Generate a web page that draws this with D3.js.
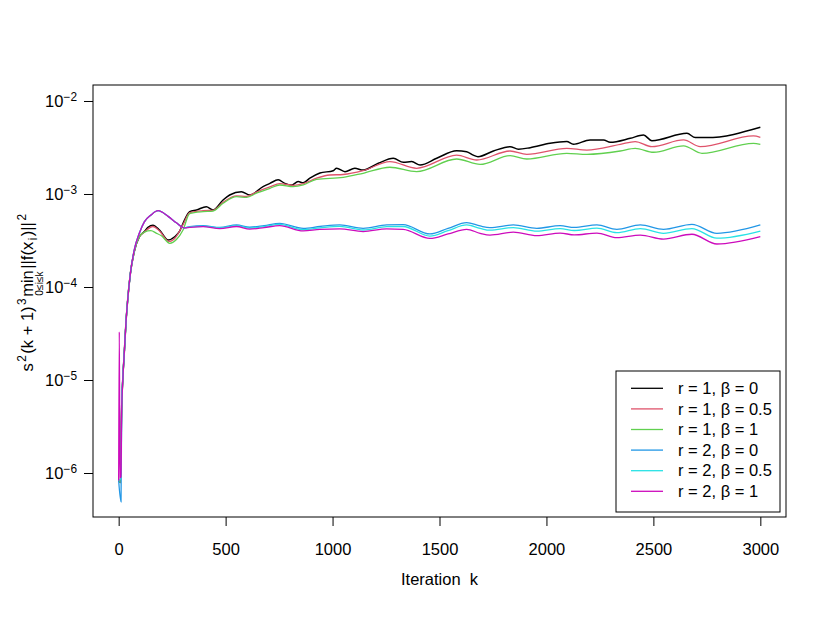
<!DOCTYPE html>
<html>
<head>
<meta charset="utf-8">
<script src="https://cdn.jsdelivr.net/npm/d3@7"></script>
<style>
  body { margin: 0; background: #fff; }
  svg text { font-family: "Liberation Sans", Arial, Helvetica, sans-serif; fill: #000; }
</style>
</head>
<body>
<svg id="chart" width="830" height="623"></svg>
<script>
// data
var xTicks = [0, 500, 1000, 1500, 2000, 2500, 3000];
var yTickExps = [-2, -3, -4, -5, -6];
var seriesNames = ["r = 1, \u03b2 = 0", "r = 1, \u03b2 = 0.5", "r = 1, \u03b2 = 1",
                   "r = 2, \u03b2 = 0", "r = 2, \u03b2 = 0.5", "r = 2, \u03b2 = 1"];

var kR1B0 = [0, 8, 14, 19, 27, 34, 42, 55, 73, 97, 120, 137, 160, 192, 231, 262, 285, 301, 332, 364,
             410, 441, 488, 519, 574, 613, 675, 707, 746, 777, 808, 839, 863, 894, 941, 1003, 1019, 1058, 1104, 1143,
             1214, 1284, 1331, 1370, 1409, 1487, 1580, 1627, 1658, 1680, 1752, 1830, 1869, 1924, 2017, 2095, 2126, 2204, 2267, 2298,
             2392, 2454, 2493, 2657, 2696, 2750, 3000];
var vR1B0 = [8.3e-7, 7.9e-7, 5.1e-6, 1.0e-5, 2.1e-5, 4.1e-5, 7.2e-5, 1.41e-4, 2.4e-4, 3.47e-4,
             3.94e-4, 4.37e-4, 4.62e-4, 4.07e-4, 3.20e-4, 3.47e-4, 3.98e-4, 4.84e-4, 6.46e-4, 6.73e-4,
             7.29e-4, 6.73e-4, 8.61e-4, 9.75e-4, 1.06e-3, 9.75e-4, 1.20e-3, 1.30e-3, 1.42e-3, 1.30e-3,
             1.25e-3, 1.36e-3, 1.32e-3, 1.48e-3, 1.68e-3, 1.78e-3, 1.89e-3, 1.74e-3, 1.89e-3, 1.81e-3,
             2.14e-3, 2.42e-3, 2.19e-3, 2.23e-3, 2.05e-3, 2.42e-3, 2.92e-3, 2.85e-3, 2.62e-3, 2.52e-3,
             2.90e-3, 3.23e-3, 3.03e-3, 3.15e-3, 3.51e-3, 3.66e-3, 3.42e-3, 3.81e-3, 3.81e-3, 3.60e-3,
             3.97e-3, 4.31e-3, 3.74e-3, 4.49e-3, 4.04e-3, 4.04e-3, 5.21e-3];

var kR1B05 = [0, 8, 14, 19, 27, 34, 42, 55, 73, 97, 120, 160, 192, 235, 265, 301, 332, 395, 441, 488,
              551, 598, 644, 707, 753, 816, 863, 925, 987, 1050, 1143, 1268, 1393, 1580, 1674, 1830, 1908, 2095, 2189, 2345,
              2415, 2493, 2641, 2719, 2968, 3000];
var vR1B05 = [8.3e-7, 7.9e-7, 5.1e-6, 1.0e-5, 2.1e-5, 4.1e-5, 7.2e-5, 1.41e-4, 2.4e-4, 3.47e-4,
              3.89e-4, 4.47e-4, 3.98e-4, 3.09e-4, 3.39e-4, 4.68e-4, 6.31e-4, 6.61e-4, 6.68e-4, 8.13e-4,
              9.55e-4, 9.44e-4, 1.05e-3, 1.19e-3, 1.29e-3, 1.24e-3, 1.29e-3, 1.48e-3, 1.60e-3, 1.62e-3,
              1.78e-3, 2.23e-3, 1.89e-3, 2.62e-3, 2.32e-3, 2.90e-3, 2.67e-3, 3.10e-3, 2.97e-3, 3.42e-3,
              3.66e-3, 3.23e-3, 3.81e-3, 3.23e-3, 4.21e-3, 4.07e-3];

var kR1B1 = [0, 8, 14, 19, 27, 34, 42, 55, 73, 97, 120, 151, 175, 200, 239, 270, 301, 332, 395, 441,
             488, 551, 598, 644, 707, 753, 816, 863, 925, 1050, 1143, 1268, 1393, 1580, 1690, 1830, 1908, 2095, 2189, 2345,
             2415, 2501, 2641, 2727, 2968, 3000];
var vR1B1 = [8.3e-7, 7.9e-7, 5.1e-6, 1.0e-5, 2.1e-5, 4.1e-5, 7.2e-5, 1.41e-4, 2.4e-4, 3.47e-4,
             3.89e-4, 4.03e-4, 3.80e-4, 3.55e-4, 2.95e-4, 3.24e-4, 4.10e-4, 6.17e-4, 6.46e-4, 6.56e-4,
             7.94e-4, 9.35e-4, 9.20e-4, 1.02e-3, 1.15e-3, 1.25e-3, 1.20e-3, 1.25e-3, 1.44e-3, 1.51e-3,
             1.67e-3, 1.94e-3, 1.74e-3, 2.38e-3, 2.08e-3, 2.58e-3, 2.38e-3, 2.74e-3, 2.67e-3, 2.90e-3,
             3.10e-3, 2.81e-3, 3.30e-3, 2.74e-3, 3.51e-3, 3.42e-3];

var kR2B0 = [0, 11, 14, 19, 27, 34, 42, 55, 73, 97, 120, 151, 184, 231, 270, 309, 332, 395, 473, 551,
             613, 680, 753, 863, 941, 1034, 1143, 1253, 1330, 1455, 1540, 1627, 1690, 1736, 1845, 1955, 2064, 2130, 2236, 2329,
             2439, 2547, 2680, 2797, 3000];
var vR2B0 = [8.3e-7, 4.9e-7, 5.1e-6, 1.0e-5, 2.1e-5, 4.1e-5, 7.2e-5, 1.41e-4, 2.51e-4, 3.80e-4,
             5.01e-4, 5.94e-4, 6.61e-4, 5.75e-4, 4.90e-4, 4.32e-4, 4.47e-4, 4.57e-4, 4.37e-4, 4.65e-4,
             4.39e-4, 4.57e-4, 4.84e-4, 4.28e-4, 4.47e-4, 4.65e-4, 4.28e-4, 4.65e-4, 4.68e-4, 3.72e-4,
             4.27e-4, 4.92e-4, 4.53e-4, 4.35e-4, 4.65e-4, 4.28e-4, 4.56e-4, 4.37e-4, 4.65e-4, 4.17e-4,
             4.65e-4, 4.17e-4, 4.72e-4, 3.78e-4, 4.65e-4];

var kR2B05 = [0, 11, 14, 19, 27, 34, 42, 55, 73, 97, 120, 151, 184, 231, 270, 309, 332, 395, 473, 551,
              613, 680, 753, 863, 941, 1034, 1143, 1253, 1330, 1455, 1540, 1627, 1690, 1736, 1845, 1955, 2064, 2130, 2236, 2329,
              2439, 2547, 2680, 2797, 3000];
var vR2B05 = [8.3e-7, 8.9e-7, 5.1e-6, 1.0e-5, 2.1e-5, 4.1e-5, 7.2e-5, 1.41e-4, 2.51e-4, 3.80e-4,
              5.01e-4, 5.94e-4, 6.61e-4, 5.75e-4, 4.90e-4, 4.32e-4, 4.42e-4, 4.49e-4, 4.31e-4, 4.56e-4,
              4.29e-4, 4.46e-4, 4.71e-4, 4.14e-4, 4.32e-4, 4.48e-4, 4.10e-4, 4.45e-4, 4.47e-4, 3.53e-4,
              4.04e-4, 4.65e-4, 4.27e-4, 4.08e-4, 4.36e-4, 3.99e-4, 4.25e-4, 4.05e-4, 4.29e-4, 3.84e-4,
              4.25e-4, 3.78e-4, 4.25e-4, 3.35e-4, 4.00e-4];

var kR2B1 = [0, 3, 6, 11, 14, 19, 27, 34, 42, 55, 73, 97, 120, 151, 184, 231, 270, 309, 332, 395,
             473, 551, 613, 680, 753, 863, 941, 1034, 1143, 1253, 1330, 1455, 1540, 1627, 1690, 1736, 1845, 1955, 2064, 2130,
             2236, 2329, 2439, 2547, 2680, 2797, 3000];
var vR2B1 = [8.3e-7, 3.3e-5, 8.9e-7, 9.1e-7, 4.5e-6, 9.5e-6, 2.1e-5, 4.1e-5, 7.2e-5, 1.41e-4,
             2.51e-4, 3.80e-4, 5.01e-4, 5.94e-4, 6.61e-4, 5.75e-4, 4.90e-4, 4.32e-4, 4.37e-4, 4.45e-4,
             4.25e-4, 4.47e-4, 4.19e-4, 4.35e-4, 4.57e-4, 4.01e-4, 4.17e-4, 4.22e-4, 3.94e-4, 4.22e-4,
             4.17e-4, 3.33e-4, 3.72e-4, 4.17e-4, 3.78e-4, 3.62e-4, 3.89e-4, 3.56e-4, 3.80e-4, 3.63e-4,
             3.80e-4, 3.39e-4, 3.62e-4, 3.28e-4, 3.69e-4, 2.90e-4, 3.48e-4];

var seriesK = [kR1B0, kR1B05, kR1B1, kR2B0, kR2B05, kR2B1];
var seriesV = [vR1B0, vR1B05, vR1B1, vR2B0, vR2B05, vR2B1];
var colors = ["#000000", "#DF536B", "#61D04F", "#2297E6", "#28E2E5", "#CD0BBC"];

// layout
var box = {left: 93, right: 786, top: 85, bottom: 517};
var fontSize = 16.5;

var svg = d3.select("#chart");

var x = d3.scaleLinear()
    .domain([-120, 3120])
    .range([box.left, box.right]);
var y = d3.scaleLog()
    .domain([Math.pow(10, -6.473), Math.pow(10, -1.828)])
    .range([box.bottom, box.top]);

// lines
var line = d3.line()
    .x(function(d) { return x(d[0]); })
    .y(function(d) { return y(d[1]); })
    .curve(d3.curveMonotoneX);

var plot = svg.append("g").attr("class", "lines");
seriesK.forEach(function(ks, i) {
    var pts = ks.map(function(k, j) { return [k, seriesV[i][j]]; });
    plot.append("path")
        .datum(pts)
        .attr("d", line)
        .attr("fill", "none")
        .attr("stroke", colors[i])
        .attr("stroke-width", i == 0 ? 1.5 : 1.3);
});

// box
svg.append("rect")
    .attr("x", box.left).attr("y", box.top)
    .attr("width", box.right - box.left).attr("height", box.bottom - box.top)
    .attr("fill", "none").attr("stroke", "#000").attr("stroke-width", 1);

// x axis
var gx = svg.append("g")
    .attr("transform", "translate(0," + box.bottom + ")")
    .call(d3.axisBottom(x).tickValues(xTicks).tickSize(9).tickPadding(17).tickFormat(d3.format("d")));
gx.select(".domain").remove();
gx.selectAll("text").style("font-size", fontSize + "px").style("font-family", null);

// y axis with 10^n labels
var gy = svg.append("g")
    .attr("transform", "translate(" + box.left + ",0)")
    .call(d3.axisLeft(y).tickValues(yTickExps.map(function(e) { return Math.pow(10, e); })).tickSize(9).tickPadding(7));
gy.select(".domain").remove();
gy.selectAll("text").each(function(d, i) {
    var t = d3.select(this).text("").style("font-size", fontSize + "px").style("font-family", null);
    t.append("tspan").text("10");
    t.append("tspan").attr("dy", "-0.5em").style("font-size", (fontSize * 0.72) + "px")
        .text("\u2212" + (-yTickExps[i]));
});
svg.selectAll(".tick line").attr("stroke", "#000");

// x label
svg.append("text")
    .attr("x", (box.left + box.right) / 2)
    .attr("y", 585)
    .attr("text-anchor", "middle")
    .style("font-size", fontSize + "px")
    .text("Iteration\u00a0\u00a0k");

// y label built piece by piece (plotmath style)
var ylab = svg.append("g").attr("transform", "translate(33,292) rotate(-90)");
var parts = [
    {t: "s", s: 1, dy: 0},
    {t: "2", s: 0.72, dy: -0.45},
    {t: "(k\u00a0+\u00a01)", s: 1, dy: 0},
    {t: "3", s: 0.72, dy: -0.45},
    {t: "min", s: 1, dy: 0, under: "0\u2264i\u2264k"},
    {t: "||f(x", s: 1, dy: 0},
    {t: "i", s: 0.72, dy: 0.25},
    {t: ")||", s: 1, dy: 0},
    {t: "2", s: 0.72, dy: -0.45}
];
var cursor = 0;
var placed = [];
parts.forEach(function(p) {
    var el = ylab.append("text")
        .attr("x", cursor)
        .attr("y", p.dy * fontSize)
        .style("font-size", (fontSize * p.s) + "px")
        .text(p.t);
    var w = el.node().getComputedTextLength();
    placed.push(el);
    if (p.under) {
        var u = ylab.append("text")
            .attr("y", 0.62 * fontSize)
            .style("font-size", (fontSize * 0.62) + "px")
            .text(p.under);
        var uw = u.node().getComputedTextLength();
        var full = Math.max(w, uw);
        el.attr("x", cursor + (full - w) / 2);
        u.attr("x", cursor + (full - uw) / 2);
        placed.push(u);
        w = full;
    }
    cursor += w + 1.5;
});
placed.forEach(function(el) { el.attr("x", +el.attr("x") - cursor / 2); });

// legend
var leg = {x0: 616, y0: 371, x1: 780, y1: 512, rowY: 388.3, rowH: 20.6};
svg.append("rect")
    .attr("x", leg.x0).attr("y", leg.y0)
    .attr("width", leg.x1 - leg.x0).attr("height", leg.y1 - leg.y0)
    .attr("fill", "#fff").attr("stroke", "#000").attr("stroke-width", 1);
var rows = svg.append("g").selectAll("g").data(seriesNames).enter().append("g")
    .attr("transform", function(d, i) { return "translate(0," + (leg.rowY + i * leg.rowH) + ")"; });
rows.append("line")
    .attr("x1", 631).attr("x2", 663)
    .attr("stroke", function(d, i) { return colors[i]; })
    .attr("stroke-width", 1.3);
rows.append("text")
    .attr("x", 678).attr("dy", "0.35em")
    .style("font-size", fontSize + "px")
    .text(function(d) { return d; });
</script>
</body>
</html>
